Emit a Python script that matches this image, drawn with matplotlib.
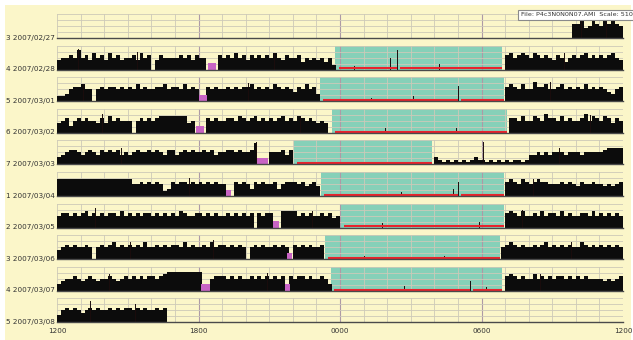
import matplotlib
matplotlib.use("Agg")
import matplotlib.pyplot as plt
from matplotlib.patches import Rectangle

# ---------------------------------------------------------------------------
# DATA  (10-min bins from 12:00 to 12:00, level 0-9 = tenths of row height)
# ---------------------------------------------------------------------------
days = ["3 2007/02/27", "4 2007/02/28", "5 2007/03/01", "6 2007/03/02",
        "7 2007/03/03", "1 2007/03/04", "2 2007/03/05", "3 2007/03/06",
        "4 2007/03/07", "5 2007/03/08"]

activity = [
    # 02/27
    "000000 000000 000000 000000 000000 000000 000000 000000 000000 000000 000000 000000 "
    "000000 000000 000000 000000 000000 000000 000000 000000 000000 000006 674586 586765",
    # 02/28
    "455658 564756 475645 564756 046555 565646 550006 565756 465656 575465 563545 453520 "
    "000000 000000 000000 000000 000000 000000 000000 675676 576565 465356 567565 656754",
    # 03/01
    "223566 755056 566565 657565 566756 657565 006565 565656 675656 576565 465756 300000 "
    "000000 000000 000000 000000 000000 000000 000000 676575 586675 567565 657565 654356",
    # 03/02
    "456356 565546 475655 505656 567777 777450 006565 566576 567565 656756 576565 454000 "
    "000000 000000 000000 000000 000000 000000 000000 066575 576586 657565 568576 576465",
    # 03/03
    "345665 456546 565645 456556 565466 456565 565645 566565 569000 555646 000000 000000 "
    "000000 000000 000000 000000 321212 121232 212121 212212 445454 555455 545555 567777",
    # 03/04
    "777777 777777 777777 755656 565236 566565 656565 500656 536565 563566 656456 400000 "
    "000000 000000 000000 000000 000000 000000 000000 676576 567665 556565 465565 545456",
    # 03/05
    "566565 675656 566575 656566 565656 576556 656565 565656 560656 600777 756565 565645 "
    "000000 000000 000000 000000 000000 000000 000000 676575 565756 657565 566575 656565",
    # 03/06
    "456565 565056 567565 656575 565656 657565 565756 656565 056565 565650 656565 560000 "
    "000000 000000 000000 000000 000000 000000 000005 676565 565675 656565 576565 656565",
    # 03/07
    "345565 456545 565456 565656 656788 888888 800566 656565 565656 565606 566565 565300 "
    "000000 000000 000000 000000 000000 000000 000000 676565 575656 566565 656555 545456",
    # 03/08
    "356565 456565 565656 656565 565600 000000 000000 000000 000000 000000 000000 000000 "
    "000000 000000 000000 000000 000000 000000 000000 000000 000000 000000 000000 000000",
]

# sleep periods (hours after 12:00)
sleep_on = [None, 11.80, 11.14, 11.65, 10.04, 11.19, 12.03, 11.36, 11.60, None]
sleep_off = [None, 18.86, 18.94, 19.07, 15.89, 18.94, 18.94, 18.77, 18.86, None]
red_gap = [None, 14.45, 17.05, None, None, 17.05, None, None, 17.55, None]

# magenta markers (row, start, end)
mark_row = [1, 2, 3, 4, 5, 6, 7, 8, 8]
mark_start = [6.40, 6.00, 5.89, 8.47, 7.16, 9.15, 9.77, 6.10, 9.66]
mark_end = [6.74, 6.36, 6.23, 8.94, 7.37, 9.40, 9.96, 6.48, 9.87]

# thin spikes (row, hour, height)
spike_row = [1, 1, 1, 2, 4, 4, 5, 5, 8, 9,
             0, 0, 1, 1, 1, 2, 2, 2, 3, 3, 3, 4, 4, 5, 5, 6, 6, 6, 7, 7, 7, 8, 8, 8, 9,
             1, 1, 2, 2, 3, 3, 5, 6, 6, 7, 7, 8, 8]
spike_hour = [0.90, 14.10, 14.40, 17.00, 8.42, 18.05, 17.00, 16.80, 17.50, 1.40,
              22.2, 23.3, 3.4, 9.2, 21.5, 1.1, 8.1, 20.9, 1.9, 10.3, 22.6, 2.7, 21.3,
              5.6, 20.2, 1.6, 10.8, 19.7, 3.1, 6.6, 21.8, 2.2, 8.9, 20.5, 3.3,
              12.6, 16.2, 13.3, 15.1, 13.9, 16.9, 14.6, 13.8, 17.9, 13.0, 16.4, 14.7, 18.2]
spike_h = [0.85, 0.50, 0.80, 0.65, 0.92, 0.95, 0.60, 0.30, 0.40, 0.90,
           0.75, 0.80, 0.75, 0.70, 0.70, 0.72, 0.75, 0.78, 0.80, 0.72, 0.76, 0.70, 0.68,
           0.75, 0.72, 0.80, 0.70, 0.74, 0.72, 0.80, 0.70, 0.72, 0.76, 0.70, 0.78,
           0.15, 0.25, 0.12, 0.20, 0.18, 0.20, 0.15, 0.18, 0.22, 0.15, 0.12, 0.18, 0.15]

tick_hours = [0, 6, 12, 18, 24]
tick_labels = ["1200", "1800", "0000", "0600", "1200"]

# ---------------------------------------------------------------------------
# COLOR
# ---------------------------------------------------------------------------
bg = "#fbf6c9"
green = "#86d0b8"
red = "#e8232c"
magenta = "#c864c4"
grid_minor = "#cdc9b8"
grid_major = "#ad9aa6"

# ---------------------------------------------------------------------------
# FIGURE
# ---------------------------------------------------------------------------
W, H = 633, 340
fig = plt.figure(figsize=(W / 100, H / 100), dpi=100, facecolor="white")
fig.patches.append(Rectangle((5 / W, 0), 626 / W, 1 - 5 / H, transform=fig.transFigure,
                             facecolor=bg, edgecolor="none", zorder=-10))

x0, x1 = 57, 623
base0, pitch, row_h = 38, 31.6, 24

for i in range(len(days)):
    base = base0 + pitch * i
    ax = fig.add_axes([x0 / W, 1 - base / H, (x1 - x0) / W, row_h / H])
    ax.set_xlim(0, 24)
    ax.set_ylim(0, 1)
    ax.patch.set_alpha(0)
    for s in ax.spines.values():
        s.set_visible(False)
    ax.set_yticks([])
    ax.set_xticks([])
    # -----------------------------------------------------------------------
    # grid
    for h in range(25):
        major = h in (6, 12, 18)
        ax.axvline(h, color=grid_major if major else grid_minor,
                   lw=0.8 if major else 0.6, zorder=1)
    for y in (0.25, 0.5, 0.75, 1.0):
        ax.axhline(y, color=grid_minor, lw=0.6, zorder=1)
    ax.axhline(0, color="#4a4a4a", lw=1.0, zorder=4, clip_on=False)
    # -----------------------------------------------------------------------
    # sleep
    if sleep_on[i] is not None:
        ax.axvspan(sleep_on[i], sleep_off[i], ymin=-0.04, ymax=1.0,
                   color=green, lw=0, zorder=0.5)
        start = sleep_on[i] + 0.15
        if red_gap[i] is None:
            ax.plot([start, sleep_off[i]], [0.05, 0.05], color=red, lw=1.5,
                    solid_capstyle="butt", zorder=3)
        else:
            ax.plot([start, red_gap[i] - 0.04], [0.05, 0.05], color=red, lw=1.5,
                    solid_capstyle="butt", zorder=3)
            ax.plot([red_gap[i] + 0.08, sleep_off[i]], [0.05, 0.05], color=red, lw=1.5,
                    solid_capstyle="butt", zorder=3)
    # -----------------------------------------------------------------------
    # activity
    levels = [int(c) / 10 for c in activity[i].replace(" ", "")]
    xs = [k / 6 for k in range(len(levels))]
    ax.bar(xs, levels, width=1 / 6, align="edge", color="#0c0c0c", lw=0, zorder=2)
    for r, hh, sh in zip(spike_row, spike_hour, spike_h):
        if r == i:
            ax.plot([hh, hh], [0, sh], color="#1a0c0c", lw=0.7, zorder=2.5)
    # -----------------------------------------------------------------------
    # markers
    for r, s0, s1 in zip(mark_row, mark_start, mark_end):
        if r == i:
            ax.add_patch(Rectangle((s0, 0), s1 - s0, 0.27, facecolor=magenta,
                                   edgecolor="none", zorder=3))
    # -----------------------------------------------------------------------
    ax.text(-0.09, 0.02, days[i], ha="right", va="center", fontsize=5.2,
            color="#333333", transform=ax.transData, clip_on=False)
    if i == len(days) - 1:
        ax.set_xticks(tick_hours)
        ax.set_xticklabels(tick_labels, fontsize=5.2, color="#333333")
        ax.tick_params(axis="x", length=0, pad=4)

# ---------------------------------------------------------------------------
# FILE BOX
# ---------------------------------------------------------------------------
fig.text(521 / W, 1 - 15 / H, "File: P4c3N0N0N07.AMI  Scale: 510", fontsize=4.6,
         color="#333333", va="center", ha="left",
         bbox=dict(boxstyle="square,pad=0.45", facecolor="white", edgecolor="#8a8a8a", lw=0.8))

fig.savefig("out.png", dpi=100, facecolor="white")
